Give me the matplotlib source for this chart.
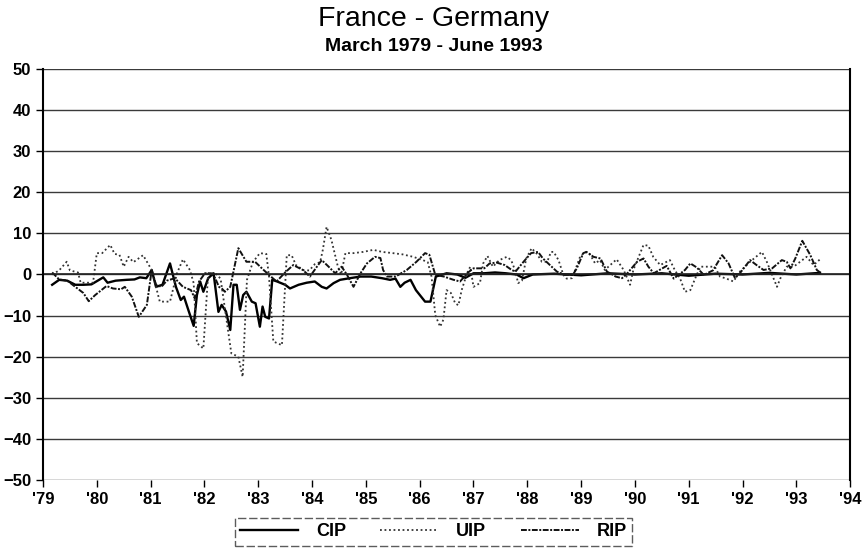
import numpy as np
import matplotlib.pyplot as plt

# interest parity deviations, France - Germany
cip_t = [1979.17, 1979.3, 1979.45, 1979.6, 1979.75, 1979.9, 1980.12, 1980.2, 1980.35, 1980.55,
         1980.7, 1980.8, 1980.92, 1981.02, 1981.1, 1981.22, 1981.36, 1981.47, 1981.56, 1981.62,
         1981.7, 1981.8, 1981.86, 1981.92, 1981.98, 1982.07, 1982.17, 1982.26, 1982.32, 1982.4,
         1982.48, 1982.54, 1982.6, 1982.66, 1982.72, 1982.78, 1982.88, 1982.95, 1983.03, 1983.08,
         1983.13, 1983.2, 1983.26, 1983.35, 1983.5, 1983.59, 1983.75, 1983.9, 1984.05, 1984.18,
         1984.27, 1984.4, 1984.52, 1984.7, 1984.9, 1985.1, 1985.3, 1985.45, 1985.55, 1985.64,
         1985.72, 1985.83, 1985.93, 1986.1, 1986.2, 1986.3, 1986.5, 1986.7, 1986.85, 1987.0,
         1987.2, 1987.4, 1987.6, 1987.8, 1987.93, 1988.1, 1988.5, 1989.0, 1989.5, 1990.0,
         1990.5, 1991.0, 1991.5, 1992.0, 1992.5, 1993.0, 1993.44]
cip_v = [-2.5, -1.3, -1.5, -2.5, -2.5, -2.4, -0.7, -2.0, -1.5, -1.3,
         -1.2, -0.7, -0.9, 1.1, -3.0, -2.5, 2.7, -3.0, -6.2, -5.4,
         -8.6, -12.5, -5.0, -1.7, -4.2, -0.9, 0.3, -9.1, -7.4, -9.0,
         -13.5, -2.5, -2.5, -8.6, -5.0, -4.2, -6.6, -7.0, -12.7, -7.8,
         -10.3, -10.7, -1.3, -1.7, -2.5, -3.4, -2.5, -2.0, -1.7, -3.0,
         -3.4, -2.1, -1.3, -0.9, -0.5, -0.5, -0.9, -1.3, -1.0, -3.0,
         -2.0, -1.3, -3.8, -6.6, -6.6, -0.5, 0.3, 0.0, -0.8, 0.3,
         0.3, 0.5, 0.3, 0.0, -0.9, 0.0, 0.2, -0.2, 0.3, 0.0,
         0.3, -0.3, 0.2, 0.0, 0.4, 0.0, 0.4]

uip_t = [1979.17, 1979.3, 1979.44, 1979.5, 1979.65, 1979.7, 1979.8, 1979.93, 1980.0, 1980.1,
         1980.25, 1980.33, 1980.42, 1980.5, 1980.59, 1980.68, 1980.86, 1981.02, 1981.14, 1981.17,
         1981.36, 1981.49, 1981.6, 1981.73, 1981.8, 1981.86, 1981.98, 1982.07, 1982.2, 1982.3,
         1982.5, 1982.63, 1982.71, 1982.79, 1982.9, 1983.03, 1983.15, 1983.2, 1983.28, 1983.44,
         1983.53, 1983.62, 1983.7, 1983.85, 1983.95, 1984.05, 1984.15, 1984.2, 1984.27, 1984.36,
         1984.48, 1984.54, 1984.62, 1984.77, 1984.95, 1985.14, 1985.3, 1985.5, 1985.68, 1985.88,
         1986.06, 1986.15, 1986.22, 1986.29, 1986.38, 1986.44, 1986.5, 1986.58, 1986.66, 1986.72,
         1986.78, 1986.88, 1986.94, 1987.0, 1987.12, 1987.18, 1987.26, 1987.36, 1987.48, 1987.62,
         1987.7, 1987.77, 1987.83, 1987.9, 1987.98, 1988.08, 1988.18, 1988.27, 1988.37, 1988.44,
         1988.49, 1988.58, 1988.67, 1988.73, 1988.83, 1988.89, 1988.98, 1989.07, 1989.16, 1989.26,
         1989.35, 1989.44, 1989.66, 1989.79, 1989.91, 1989.97, 1990.16, 1990.25, 1990.34, 1990.47,
         1990.65, 1990.74, 1990.84, 1990.93, 1991.03, 1991.15, 1991.22, 1991.46, 1991.5, 1991.58,
         1991.7, 1991.83, 1991.95, 1992.14, 1992.36, 1992.45, 1992.55, 1992.64, 1992.7, 1992.82,
         1992.95, 1993.07, 1993.19, 1993.32, 1993.44]
uip_v = [0.0, 1.0, 3.1, 1.0, 0.5, -2.0, -2.0, -2.0, 5.2, 5.2,
         7.2, 5.0, 4.8, 1.9, 4.3, 3.0, 4.7, 1.1, -5.0, -6.6,
         -6.6, 0.3, 3.7, 1.1, -2.1, -16.7, -18.0, 0.3, 0.3, -1.0,
         -19.2, -20.0, -24.9, -1.3, 3.0, 5.2, 5.0, -0.5, -16.3, -17.2,
         4.7, 4.7, 2.3, 1.0, 1.0, 2.5, 3.0, 6.0, 11.6, 8.4,
         1.9, 0.0, 5.2, 5.2, 5.5, 6.0, 5.5, 5.2, 4.9, 4.3,
         3.5, 3.0, -0.5, -9.9, -12.7, -11.0, -3.8, -4.5, -7.0, -7.5,
         -3.8, 0.3, 1.9, -3.0, -2.1, 2.7, 4.5, 1.9, 3.5, 4.3,
         3.5, 1.1, -2.1, -1.5, 3.9, 6.4, 5.0, 3.1, 3.1, 5.5,
         5.5, 3.5, -0.1, -1.0, -0.9, 1.1, 4.3, 5.5, 5.0, 2.7,
         3.5, 1.1, 3.7, 1.1, -2.5, 1.1, 7.2, 7.0, 4.3, 2.3,
         3.5, 1.1, -1.0, -4.2, -3.8, 0.0, 1.9, 1.9, 1.5, -0.5,
         -1.0, -1.7, 0.7, 3.1, 5.5, 3.1, -0.1, -3.0, -1.0, 1.9,
         1.9, 3.1, 4.3, 2.3, 3.7]

rip_t = [1979.17, 1979.3, 1979.45, 1979.6, 1979.75, 1979.85, 1979.97, 1980.18, 1980.3, 1980.45,
         1980.52, 1980.65, 1980.78, 1980.93, 1981.02, 1981.1, 1981.2, 1981.3, 1981.45, 1981.6,
         1981.75, 1981.82, 1981.9, 1982.01, 1982.12, 1982.2, 1982.27, 1982.33, 1982.38, 1982.48,
         1982.63, 1982.78, 1982.94, 1983.1, 1983.2, 1983.34, 1983.5, 1983.65, 1983.83, 1983.96,
         1984.09, 1984.18, 1984.3, 1984.43, 1984.55, 1984.65, 1984.77, 1984.9, 1985.02, 1985.17,
         1985.27, 1985.32, 1985.39, 1985.55, 1985.76, 1985.94, 1986.1, 1986.18, 1986.29, 1986.45,
         1986.63, 1986.75, 1986.9, 1987.0, 1987.2, 1987.3, 1987.43, 1987.58, 1987.71, 1987.78,
         1987.93, 1988.07, 1988.2, 1988.29, 1988.42, 1988.55, 1988.7, 1988.85, 1988.92, 1989.04,
         1989.1, 1989.23, 1989.36, 1989.48, 1989.58, 1989.64, 1989.76, 1989.86, 1990.04, 1990.16,
         1990.25, 1990.35, 1990.59, 1990.72, 1990.82, 1990.93, 1991.03, 1991.15, 1991.28, 1991.45,
         1991.62, 1991.74, 1991.86, 1991.95, 1992.14, 1992.26, 1992.39, 1992.55, 1992.73, 1992.82,
         1992.89, 1992.98, 1993.11, 1993.26, 1993.38, 1993.46]
rip_v = [0.5, -1.2, -1.5, -3.0, -4.5, -6.5, -5.0, -2.8, -3.4, -3.6,
         -3.0, -5.4, -10.3, -7.4, 1.1, -2.5, -3.0, -1.5, -0.9, -3.0,
         -3.8, -5.8, -1.7, 0.3, 0.3, -0.9, -3.0, -3.5, -4.2, -3.0,
         6.4, 3.1, 3.1, 1.1, -0.1, -1.7, 0.5, 2.3, 1.1, -0.5,
         1.9, 3.5, 2.0, 0.3, 1.9, -0.1, -3.0, 0.3, 2.7, 4.3,
         4.0, 1.1, -0.5, -0.5, 1.1, 3.1, 5.2, 4.8, -0.1, -0.5,
         -1.3, -1.7, 0.5, 1.5, 1.5, 2.7, 2.9, 2.3, 1.1, 0.7,
         3.1, 5.2, 5.5, 3.9, 2.3, 0.7, -0.1, 0.0, 1.5, 5.2,
         5.5, 4.3, 3.9, 0.7, 0.0, -0.5, -0.9, 0.3, 3.1, 3.9,
         1.9, 0.3, 2.1, -1.0, 0.0, 1.1, 2.7, 1.7, -0.1, 1.0,
         4.7, 2.7, -0.9, 0.3, 3.5, 2.3, 1.1, 1.5, 3.5, 3.1,
         1.5, 3.9, 8.2, 4.7, 1.1, 0.3]

year_ticks = list(range(1979, 1995))
year_labels = ["'" + str(y)[2:] for y in year_ticks]

plt.rcParams['font.family'] = 'Liberation Sans'

fig = plt.figure(figsize=(8.67, 5.49), dpi=100)
ax = fig.add_axes([0.0496, 0.1257, 0.931, 0.7486])

ax.plot(cip_t, cip_v, color='black', lw=1.7, ls='-', label='CIP')
ax.plot(uip_t, uip_v, color='#333333', lw=1.3, ls=(0, (1, 1.5)), label='UIP')
ax.plot(rip_t, rip_v, color='#111111', lw=1.4, ls=(0, (3, 0.8, 1, 0.8)), label='RIP')

ax.set_xlim(1979, 1994)
ax.set_ylim(-50, 50)
ax.set_yticks(np.arange(-50, 51, 10))
ax.set_xticks(year_ticks)
ax.set_xticklabels(year_labels)
ax.grid(axis='y', color='#3a3a3a', lw=1.0)
ax.axhline(0, color='#222222', lw=1.2)

for s in ['top', 'bottom']:
    ax.spines[s].set_visible(False)
for s in ['left', 'right']:
    ax.spines[s].set_linewidth(1.5)

ax.tick_params(axis='both', direction='out', length=5, width=1, labelsize=12)
for lab in ax.get_xticklabels() + ax.get_yticklabels():
    lab.set_fontweight('bold')

fig.text(0.5, 0.965, 'France - Germany', ha='center', va='center', fontsize=20.5)
fig.text(0.5, 0.915, 'March 1979 - June 1993', ha='center', va='center',
         fontsize=14, fontweight='bold')

leg = fig.legend(loc='center', bbox_to_anchor=(0.5, 0.031), ncol=3, fontsize=13,
                 handlelength=3.2, handletextpad=1.0, columnspacing=1.9,
                 fancybox=False, edgecolor='#333333', borderpad=0.3,
                 borderaxespad=0)
leg.get_frame().set_linestyle((0, (6, 2)))
for t in leg.get_texts():
    t.set_fontweight('bold')

fig.savefig('out.png', dpi=100)
